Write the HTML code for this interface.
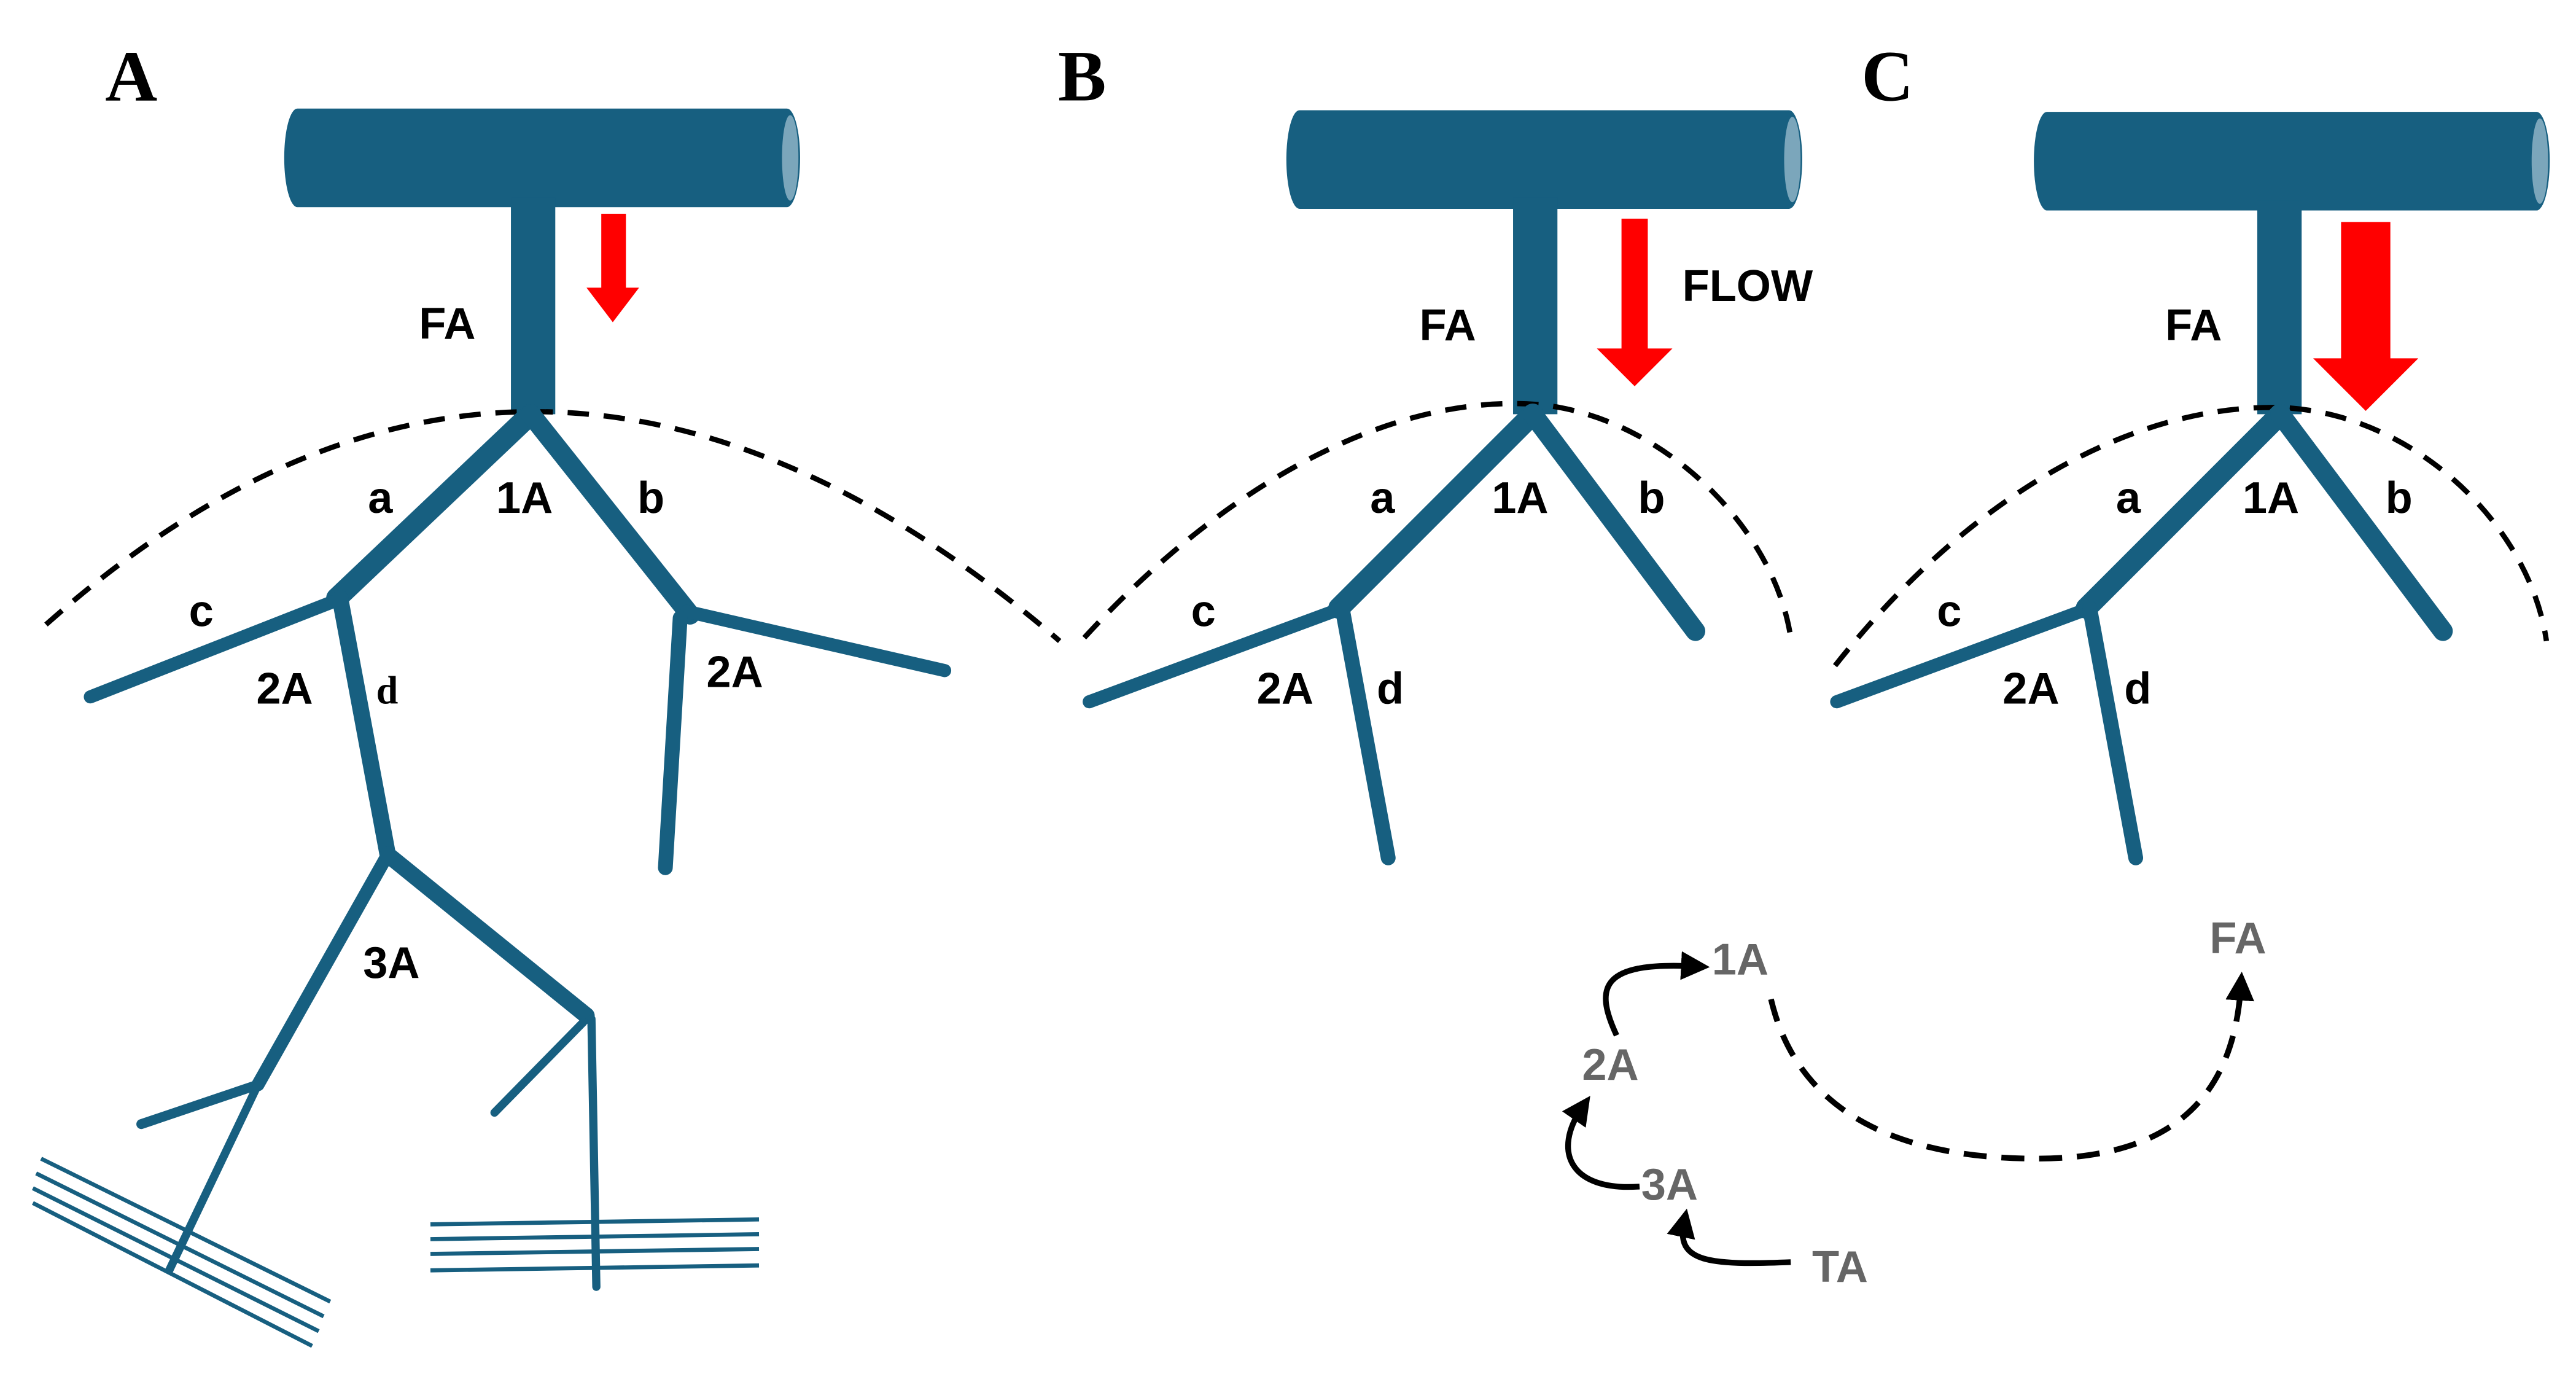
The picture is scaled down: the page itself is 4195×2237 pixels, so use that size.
<!DOCTYPE html>
<html><head><style>
html,body{margin:0;padding:0;background:#fff;}
svg{display:block;}
text{font-family:"Liberation Sans",Arial,sans-serif;font-weight:bold;}
.ser{font-family:"Liberation Serif",serif;font-weight:bold;}
</style></head><body>
<svg width="4195" height="2237" viewBox="0 0 1568 836" xmlns="http://www.w3.org/2000/svg">
<defs>
<marker id="ah" markerWidth="5" markerHeight="5" refX="2.5" refY="2.5" orient="auto" markerUnits="strokeWidth"><path d="M0,0 L5,2.5 L0,5 z" fill="#000"/></marker>
</defs>
<rect width="1568" height="836" fill="#fff"/>
<g fill="#175f80" stroke="none">
<rect x="173" y="66" width="314" height="60" rx="8" ry="30"/>
<rect x="311" y="120" width="27" height="132"/>
<rect x="783" y="67" width="314" height="60" rx="8" ry="30"/>
<rect x="921" y="120" width="27" height="132"/>
<rect x="1238" y="68" width="314" height="60" rx="8" ry="30"/>
<rect x="1374" y="122" width="27" height="130"/>
</g>
<g fill="#7ba6bb">
<ellipse cx="481" cy="96" rx="5" ry="26"/>
<ellipse cx="1091" cy="97" rx="5" ry="26"/>
<ellipse cx="1546" cy="98" rx="5" ry="26"/>
</g>
<g fill="#ff0000">
<path d="M366,130 H381 V175 H389 L373,196 L357,175 H366 Z"/>
<path d="M987,133 H1003 V212 H1018 L995,235 L972,212 H987 Z"/>
<path d="M1425,135 H1455 V218 H1472 L1440,250 L1408,218 H1425 Z"/>
</g>
<g fill="none" stroke="#000" stroke-width="3.2" stroke-dasharray="13,9">
<path d="M28,380 Q325,116 645,390"/>
<path d="M660,388 C750,290 850,240 935,246 C1010,252 1080,320 1090,388"/>
<path d="M1117,405 C1200,300 1300,245 1390,248 C1470,252 1540,320 1550,390"/>
</g>
<g stroke="#175f80" fill="none" stroke-linecap="round">
<path d="M323,252 L205,364" stroke-width="13"/>
<path d="M323,252 L420,374" stroke-width="12"/>
<path d="M208,364 L55,424" stroke-width="8"/>
<path d="M207,364 L236,520" stroke-width="10"/>
<path d="M418,372 L575,408" stroke-width="8"/>
<path d="M414,376 L405,528" stroke-width="9"/>
<path d="M236,520 L157,660" stroke-width="8"/>
<path d="M236,520 L357,618" stroke-width="10"/>
<path d="M157,660 L86,684" stroke-width="6"/>
<path d="M157,660 L103,773" stroke-width="5"/>
<path d="M355,622 L301,677" stroke-width="5"/>
<path d="M360,620 L363,783" stroke-width="5"/>
<path d="M933,252 L815,370" stroke-width="13"/>
<path d="M933,252 L1032,384" stroke-width="12"/>
<path d="M817,370 L663,427" stroke-width="8"/>
<path d="M817,370 L845,522" stroke-width="9"/>
<path d="M1388,252 L1270,370" stroke-width="13"/>
<path d="M1388,252 L1487,384" stroke-width="12"/>
<path d="M1272,370 L1118,427" stroke-width="8"/>
<path d="M1272,370 L1300,522" stroke-width="9"/>
</g>
<g stroke="#175f80" stroke-width="2.5" fill="none">
<path d="M25,705 L201,792"/><path d="M22,714 L197,801"/><path d="M20,723 L194,810"/><path d="M20,732 L190,819"/>
<path d="M262,745 L462,742"/><path d="M262,754 L462,751"/><path d="M262,763 L462,760"/><path d="M262,773 L462,770"/>
</g>
<g fill="#000" font-size="27">
<text x="255" y="206">FA</text>
<text x="224" y="312">a</text>
<text x="302" y="312">1A</text>
<text x="388" y="312">b</text>
<text x="115" y="381">c</text>
<text x="156" y="428">2A</text>
<text x="430" y="418">2A</text>
<text x="221" y="595">3A</text>
<text x="864" y="207">FA</text>
<text x="1024" y="183">FLOW</text>
<text x="834" y="312">a</text>
<text x="908" y="312">1A</text>
<text x="997" y="312">b</text>
<text x="725" y="381">c</text>
<text x="765" y="428">2A</text>
<text x="838" y="428">d</text>
<text x="1318" y="207">FA</text>
<text x="1288" y="312">a</text>
<text x="1365" y="312">1A</text>
<text x="1452" y="312">b</text>
<text x="1179" y="381">c</text>
<text x="1219" y="428">2A</text>
<text x="1293" y="428">d</text>
</g>
<text class="ser" x="229" y="428" font-size="24">d</text>
<g font-size="44">
<text class="ser" x="64" y="61">A</text>
<text class="ser" x="644" y="61">B</text>
<text class="ser" x="1133" y="61">C</text>
</g>
<g fill="#666" font-size="27">
<text x="1042" y="593">1A</text>
<text x="963" y="657">2A</text>
<text x="999" y="730">3A</text>
<text x="1103" y="780">TA</text>
<text x="1345" y="580">FA</text>
</g>
<g fill="none" stroke="#000" stroke-width="3.5">
<path d="M1090,768 C1040,770 1020,768 1025,744" marker-end="url(#ah)"/>
<path d="M998,722 C955,725 945,700 963,674" marker-end="url(#ah)"/>
<path d="M984,630 C970,600 975,585 1032,588" marker-end="url(#ah)"/>
<path d="M1078,608 C1095,680 1160,705 1240,705 C1330,705 1360,660 1364,600" stroke-dasharray="14,9" marker-end="url(#ah)"/>
</g>
</svg>
</body></html>
